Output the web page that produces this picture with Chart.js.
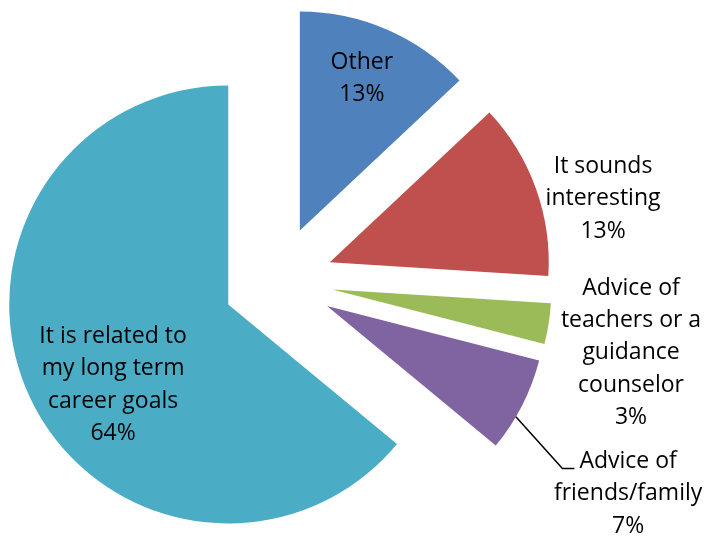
<!DOCTYPE html>
<html>
<head>
<meta charset="utf-8">
<script src="https://cdn.jsdelivr.net/npm/chart.js@4/dist/chart.umd.min.js"></script>
<style>
  html, body { margin: 0; padding: 0; background: #fff; }
  #wrap { width: 707px; height: 537px; }
</style>
</head>
<body>
<div id="wrap"><canvas id="reasonChart" width="707" height="537"></canvas></div>
<script>
const reasonLabels = [
  ['Other'],
  ['It sounds', 'interesting'],
  ['Advice of', 'teachers or a', 'guidance', 'counselor'],
  ['Advice of', 'friends/family'],
  ['It is related to', 'my long term', 'career goals']
];
const reasonShares = [13, 13, 3, 7, 64];
const sliceColors = ['#4F81BD', '#C0504D', '#9BBB59', '#8064A2', '#4BACC6'];

// label block centre: distance from pie centre (in radii) and a small turn off the slice mid angle (deg)
const labelPlacement = [
  { dist: 1.0, turn: -0.9 },
  { dist: 1.531, turn: 5.6 },
  { dist: 1.645, turn: 2.5 },
  { dist: 1.871, turn: 4.3, leader: true },
  { dist: 0.89, turn: -7.0 }
];

const EXPLODE = 55;          // every slice pulled out this far along its mid angle
const LABEL_FONT = '23px "Open Sans"';
const LINE_H = 32.4;

// chart.js' own "offset" also grows and narrows the arcs, so shift the wedges here instead
const explodeSlices = {
  id: 'explodeSlices',
  beforeDatasetDraw(chart, args) {
    const ctx = chart.ctx;
    args.meta.data.forEach(arc => {
      const mid = (arc.startAngle + arc.endAngle) / 2;
      ctx.save();
      ctx.translate(Math.cos(mid) * EXPLODE, Math.sin(mid) * EXPLODE);
      arc.draw(ctx);
      ctx.restore();
    });
    return false;
  }
};

const sliceLabels = {
  id: 'sliceLabels',
  afterDatasetsDraw(chart) {
    const ctx = chart.ctx;
    const meta = chart.getDatasetMeta(0);
    const total = reasonShares.reduce((a, b) => a + b, 0);
    ctx.save();
    ctx.font = LABEL_FONT;
    ctx.fillStyle = '#000';
    ctx.textAlign = 'center';
    ctx.textBaseline = 'middle';
    meta.data.forEach((arc, i) => {
      const { x, y, startAngle, endAngle, outerRadius } = arc;
      const place = labelPlacement[i];
      const mid = (startAngle + endAngle) / 2;
      const ang = mid + place.turn * Math.PI / 180;
      const cx = x + Math.cos(ang) * outerRadius * place.dist;
      const cy = y + Math.sin(ang) * outerRadius * place.dist;
      const lines = reasonLabels[i].concat(Math.round(reasonShares[i] / total * 100) + '%');
      const top = cy - (lines.length - 1) * LINE_H / 2;
      lines.forEach((t, k) => ctx.fillText(t, cx, top + k * LINE_H));

      if (place.leader) {
        // leader from the slice rim to the first label line
        const edge = mid + 3.4 * Math.PI / 180;
        const sx = x + Math.cos(mid) * EXPLODE + Math.cos(edge) * outerRadius;
        const sy = y + Math.sin(mid) * EXPLODE + Math.sin(edge) * outerRadius;
        const ex = cx - ctx.measureText(lines[0]).width / 2 - 5;
        const ey = top + 7;
        ctx.beginPath();
        ctx.moveTo(sx, sy);
        ctx.lineTo(ex - 12, ey);
        ctx.lineTo(ex, ey);
        ctx.strokeStyle = '#000';
        ctx.lineWidth = 1.5;
        ctx.stroke();
      }
    });
    ctx.restore();
  }
};

new Chart(document.getElementById('reasonChart'), {
  type: 'pie',
  data: {
    labels: reasonLabels.map(l => l.join(' ')),
    datasets: [{
      data: reasonShares,
      backgroundColor: sliceColors,
      borderWidth: 0,
      radius: 219
    }]
  },
  options: {
    responsive: false,
    animation: false,
    events: [],
    layout: { padding: { left: 0, right: 151, top: 25, bottom: 0 } },
    plugins: {
      legend: { display: false },
      tooltip: { enabled: false }
    }
  },
  plugins: [explodeSlices, sliceLabels]
});
</script>
</body>
</html>
